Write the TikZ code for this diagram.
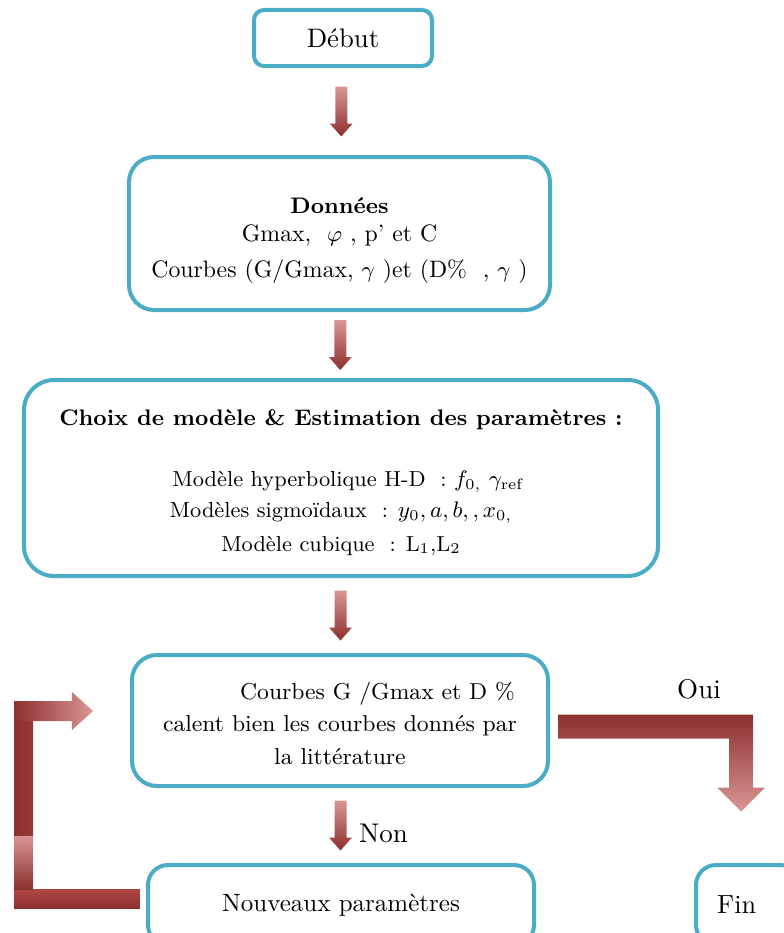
\documentclass[tikz,border=0pt]{standalone}
\definecolor{boxblue}{RGB}{75,172,198}
\definecolor{arrowlight}{RGB}{217,150,148}
\definecolor{arrowmid}{RGB}{192,80,77}
\definecolor{arrowdark}{RGB}{140,48,46}
\usepackage{tikz}
\usetikzlibrary{calc}
\usepackage{amsmath,amssymb}

% fat shaded arrow pointing down, centred on a coordinate
\newcommand{\flowdown}[1]{%
  \path[downblock] ($(#1)+(-6,-25)$) -- ++(12,0) -- ++(0,37) -- ++(5.5,0)
    -- ++(-11.5,13) -- ++(-11.5,-13) -- ++(5.5,0) -- cycle;}
\newcommand{\fsz}[1]{\fontsize{#1}{1.2\dimexpr#1\relax}\selectfont}

\begin{document}
\begin{tikzpicture}[x=0.4pt, y=-0.4pt,
    flowbox/.style={draw=boxblue, line width=1.6pt, fill=white,
      align=center, inner sep=0pt},
    downblock/.style={top color=arrowlight, middle color=arrowmid,
      bottom color=arrowdark, draw=none},
  ]
    \useasboundingbox (0,0) rectangle (783,933);

    \node[flowbox, rounded corners=4pt, minimum width=71.2pt, minimum height=22.4pt,
      font=\fsz{10.7pt}] (debut) at (343,38) {Début};
    \node[flowbox, rounded corners=10pt, minimum width=168.4pt, minimum height=61.2pt,
      font=\fsz{9.5pt}] (donnees) at (339.5,233.5)
      {\rule{0pt}{12pt}{\fsz{9pt}\textbf{Données}}\\
      Gmax, \ $\varphi$ , p' et C\\[3pt]
      Courbes (G/Gmax, $\gamma$ )et (D\% \ , $\gamma$ )};
    \node[flowbox, rounded corners=12pt, minimum width=253.6pt, minimum height=78.4pt,
      font=\fsz{8.7pt}] (choix) at (341,478)
      {\rule{0pt}{10pt}{\fsz{9pt}\textbf{Choix de modèle \& Estimation des paramètres :}}\\[14pt]
      \hspace*{6pt}Modèle hyperbolique H-D \ : $f_{0,}\ \gamma_{\mathrm{ref}}$\\[2pt]
      Modèles sigmoïdaux \ : $y_0, a, b, , x_{0,}$\\[3pt]
      Modèle cubique \ : L$_1$,L$_2$};
    \node[flowbox, rounded corners=10pt, minimum width=166.4pt, minimum height=52.4pt,
      font=\fsz{9.2pt}] (courbes) at (340,720.5)
      {\rule{0pt}{9pt}\hspace*{30pt}Courbes G /Gmax et D \%\\[2pt]
      calent bien les courbes donnés par\\[2pt]
      la littérature};
    \node[flowbox, rounded corners=8pt, minimum width=154.4pt, minimum height=32pt]
      (nouveaux) at (341,905) {Nouveaux paramètres};
    \node[flowbox, rounded corners=8pt, minimum width=41.6pt, minimum height=32pt,
      font=\fsz{10.5pt}] (fin) at (748,905) {Fin\hspace*{9pt}};

    % straight arrows
    \coordinate (a1) at ($(debut.south)!0.5!(donnees.north)$);
    \coordinate (a2) at ($(donnees.south)!0.5!(choix.north)$);
    \coordinate (a3) at ($(choix.south)!0.5!(courbes.north)$);
    \coordinate (a4) at ($(courbes.south)!0.5!(nouveaux.north)$);
    \flowdown{a1}
    \flowdown{a2}
    \flowdown{a3}
    \flowdown{a4}
    \node[font=\fsz{10.8pt}] (non) at ($(a4)+(43,8)$) {Non};

    % yes branch
    \path[top color=arrowdark, middle color=arrowmid, bottom color=arrowlight]
      ($(courbes.east)+(8,-6)$) -- ++(195,0) -- ++(0,73) -- ++(12,0)
      -- ++(-24,24) -- ++(-24,-24) -- ++(12,0) -- ++(0,-49) -- ++(-171,0) -- cycle;
    \node[font=\fsz{10.8pt}] (oui) at (699,689) {Oui};

    % loop back to the test
    \coordinate (looptip) at ($(courbes.west)+(-37,-9.5)$);
    \path[top color=arrowmid!70!arrowdark, bottom color=arrowdark]
      ($(nouveaux.west)+(-6,-16)$) rectangle (14,908);
    \path[top color=arrowlight, middle color=arrowmid, bottom color=arrowdark]
      (14,835) rectangle (33,889);
    \path[left color=arrowdark, right color=arrowdark!80!arrowmid]
      (14,701) rectangle (33,835);
    \path[left color=arrowdark, middle color=arrowmid, right color=arrowlight]
      (14,701) -- ($(looptip)+(-21,-10)$) -- ++(0,-9) -- (looptip)
      -- ($(looptip)+(-21,19)$) -- ++(0,-9) -- (14,721) -- cycle;
  \end{tikzpicture}
\end{document}
